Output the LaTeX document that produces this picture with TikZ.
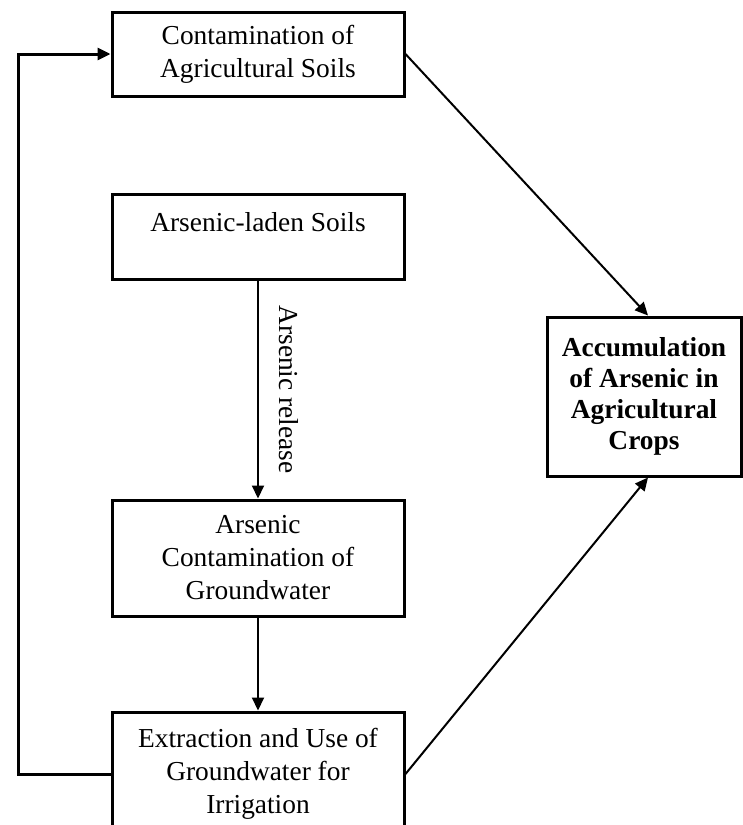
\documentclass[tikz,border=0pt]{standalone}
\usepackage{fontspec}
\setmainfont{Liberation Serif}
\usetikzlibrary{positioning, arrows.meta}

\tikzset{
  box/.style={draw, line width=1.5pt, minimum width=146pt, align=center,
    font=\fontsize{13.7pt}{16.5pt}\selectfont, inner sep=2pt},
  link/.style={line width=1pt, -{Triangle[length=6.5pt, width=6pt]}}
}

\begin{document}
\begin{tikzpicture}[x=0.5pt, y=-0.5pt, auto]
    \useasboundingbox (0,0) rectangle (743,825);
    \node[box, minimum height=42pt] (soil) at (258,54) {Contamination of\\Agricultural Soils};
    \node[box, minimum height=42.5pt] (laden) at (258,236.5) {Arsenic-laden Soils\\[-7pt]\strut};
    \node[box, minimum height=58pt] (water) at (258,558) {Arsenic\\Contamination of\\Groundwater};
    \node[box, minimum height=62pt] (irrig) at (258,774) {Extraction and Use of\\Groundwater for\\Irrigation};
    \node[box, minimum width=97pt, minimum height=79.5pt,
          font=\fontsize{13.7pt}{15.5pt}\selectfont\bfseries] (crops) at (644,396.5)
          {Accumulation\\of Arsenic in\\Agricultural\\Crops};
    \coordinate (back) at (18,0);
    \path[link] (soil.east) edge ([xshift=2pt]crops.north)
              (irrig.east) edge ([xshift=2pt]crops.south)
              (laden) edge node[sloped, inner sep=10pt, font=\fontsize{13.7pt}{16.5pt}\selectfont] {Arsenic release} (water)
              (water) edge (irrig);
    \draw[link, line width=1.5pt] (irrig.west) -- (irrig.west -| back) |- (soil.west);
  \end{tikzpicture}
\end{document}
